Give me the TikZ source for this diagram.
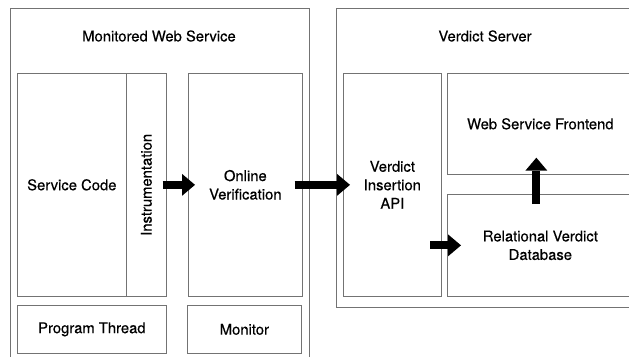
\documentclass[tikz,border=0pt]{standalone}
\usepackage{fontspec}
\setmainfont{TeX Gyre Heros}[FakeBold=0.4]
\usetikzlibrary{arrows.meta}
\begin{document}
\begin{tikzpicture}[x=1pt,y=-1pt,
   box/.style={draw=black!55,line width=0.7pt,anchor=north west,inner sep=0pt,align=center},
   flow/.style={line width=8pt,-{Triangle[width=22pt,length=13pt,line width=0pt]}},
   every node/.style={font=\fontsize{14.8}{18.5}\selectfont}]
   \useasboundingbox (0,0) rectangle (629,356);
   \clip (0,0) rectangle (629,356);
   % monitored web service
   \node [box,minimum width=299pt,minimum height=370pt] (mws) at (10,8) {};
   \node (mwstitle) at (159,36) {Monitored Web Service};
   \node [box,minimum width=109pt,minimum height=223pt] (code) at (17,73) {Service Code};
   \node [box,minimum width=40pt,minimum height=223pt] (instr) at (126,73) {};
   \node [rotate=90] (instrtext) at (instr.center) {Instrumentation};
   \node [box,minimum width=114pt,minimum height=223pt] (online) at (188,73) {Online\\Verification};
   \node [box,minimum width=149pt,minimum height=48pt] (thread) at (17,305) {Program Thread};
   \node [box,minimum width=114pt,minimum height=48pt] (monitor) at (187,305) {Monitor};
   % verdict server
   \node [box,minimum width=310pt,minimum height=299pt] (vs) at (336,8) {};
   \node (vstitle) at (485,36) {Verdict Server};
   \node [box,minimum width=98pt,minimum height=223pt] (api) at (343,73) {Verdict\\Insertion\\API};
   \node [box,minimum width=186pt,minimum height=101pt] (front) at (447,73) {Web Service Frontend};
   \node [box,minimum width=186pt,minimum height=102pt] (db) at (447,194) {Relational Verdict\\Database};
   % arrows
   \draw [flow] ([xshift=-4pt]instr.east) -- ([xshift=7pt]online.west);
   \draw [flow] ([xshift=-8pt]online.east) -- ([xshift=7pt]api.west);
   \draw [flow] ([xshift=-17pt]db.west) -- ([xshift=14pt]db.west);
   \draw [flow] ([xshift=-4pt,yshift=-10pt]db.north) -- ([xshift=-4pt,yshift=17pt]front.south);
\end{tikzpicture}
\end{document}
